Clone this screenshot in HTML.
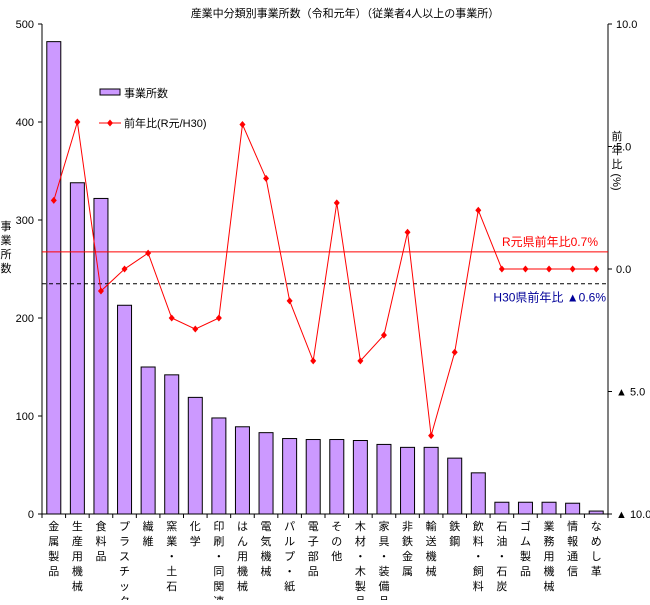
<!DOCTYPE html>
<html><head><meta charset="utf-8"><style>
body{margin:0;background:#fff}
text{font-family:"Liberation Sans","Noto Sans CJK JP",sans-serif;font-size:11px;fill:#000}
</style></head><body>
<svg id="c" width="650" height="600">
<text x="345" y="17" text-anchor="middle" font-size="12">産業中分類別事業所数（令和元年）（従業者4人以上の事業所）</text>
<g id="g"></g>
</svg>
<script>
const categories=["金属製品","生産用機械","食料品","プラスチック","繊維","窯業・土石","化学","印刷・同関連","はん用機械","電気機械","パルプ・紙","電子部品","その他","木材・木製品","家具・装備品","非鉄金属","輸送機械","鉄鋼","飲料・飼料","石油・石炭","ゴム製品","業務用機械","情報通信","なめし革"];
const counts=[482,338,322,213,150,142,119,98,89,83,77,76,76,75,71,68,68,57,42,12,12,12,11,3];
const ratios=[2.8,6.0,-0.9,0,0.65,-2.0,-2.45,-2.0,5.9,3.7,-1.3,-3.75,2.7,-3.75,-2.7,1.5,-6.8,-3.4,2.4,0,0,0,0,0];
const leftTicks=[0,100,200,300,400,500];
const rightTicks=[10,5,0,-5,-10];
const refR=0.7, refH=-0.6;
const L=42,R=608,T=24,B=514;
const g=document.getElementById('g');const NS='http://www.w3.org/2000/svg';
function el(t,a,txt){const e=document.createElementNS(NS,t);for(const k in a)e.setAttribute(k,a[k]);if(txt!==undefined)e.textContent=txt;g.appendChild(e);return e;}
const yL=v=>B-(v/500)*(B-T);
const yR=v=>B-((v+10)/20)*(B-T);
const pitch=(R-L)/categories.length;
const xC=i=>L+pitch*(i+0.5);
// axes
let e=el('line',{x1:L,y1:T,x2:L,y2:B,stroke:'#000'});

e=el('line',{x1:R,y1:T,x2:R,y2:B,stroke:'#000'});

e=el('line',{x1:L,y1:B,x2:R,y2:B,stroke:'#000'});

leftTicks.forEach(v=>{el('line',{x1:L-4,y1:yL(v),x2:L,y2:yL(v),stroke:'#000'});
 e=el('text',{x:L-8,y:yL(v)+4,'text-anchor':'end'},String(v));
 });
rightTicks.forEach(v=>{el('line',{x1:R,y1:yR(v),x2:R+4,y2:yR(v),stroke:'#000'});
 const s=v<0?'▲ '+Math.abs(v).toFixed(1):v.toFixed(1);
 e=el('text',{x:R+8,y:yR(v)+4},s);
 });
for(let i=0;i<=categories.length;i++)el('line',{x1:L+pitch*i,y1:B,x2:L+pitch*i,y2:B+4,stroke:'#000'});
// bars
counts.forEach((v,i)=>{const r=el('rect',{x:xC(i)-7,y:yL(v),width:14,height:B-yL(v),fill:'#cc99ff',stroke:'#000','stroke-width':1});
 });
// reference lines
e=el('line',{x1:L,y1:yR(refR),x2:R,y2:yR(refR),stroke:'#ff0000'});

e=el('line',{x1:L,y1:yR(refH),x2:R,y2:yR(refH),stroke:'#000','stroke-dasharray':'4,3'});

e=el('text',{x:598,y:yR(refR)-6,'text-anchor':'end',fill:'#ff0000',style:'fill:#ff0000;font-size:12px'},'R元県前年比0.7%');

e=el('text',{x:606,y:yR(refH)+18,'text-anchor':'end',style:'fill:#000099;font-size:12px'},'H30県前年比 ▲0.6%');

// line
e=el('polyline',{points:ratios.map((v,i)=>xC(i)+','+yR(v)).join(' '),fill:'none',stroke:'#ff0000','stroke-width':1});

ratios.forEach((v,i)=>{const x=xC(i),y=yR(v);
 const p=el('polygon',{points:`${x},${y-3.5} ${x+3},${y} ${x},${y+3.5} ${x-3},${y}`,fill:'#ff0000'});
 });
// category labels vertical
categories.forEach((c,i)=>{[...c].forEach((ch,j)=>{const t=el('text',{x:xC(i),y:530+j*15,'text-anchor':'middle'},ch);
 });});
// axis titles
[..."事業所数"].forEach((ch,j)=>{e=el('text',{x:6,y:230+j*14,'text-anchor':'middle'},ch);
 });
[..."前年比"].forEach((ch,j)=>{e=el('text',{x:617,y:140+j*14,'text-anchor':'middle'},ch);
 });
e=el('text',{x:617,y:186,'text-anchor':'middle',transform:'rotate(90 617 182)'},'(%)');

// legend
e=el('rect',{x:100,y:89,width:20,height:6,fill:'#cc99ff',stroke:'#000'});

e=el('text',{x:124,y:97},'事業所数');

e=el('line',{x1:99,y1:123,x2:121,y2:123,stroke:'#ff0000'});

e=el('polygon',{points:'110,119.5 113,123 110,126.5 107,123',fill:'#ff0000'});
e=el('text',{x:124,y:127},'前年比(R元/H30)');

</script>
</body></html>
